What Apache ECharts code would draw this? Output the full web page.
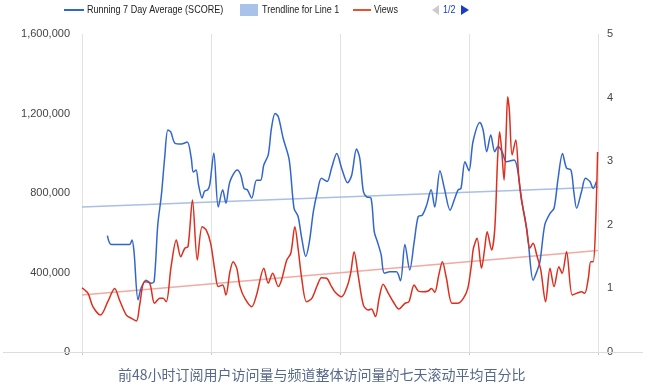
<!DOCTYPE html>
<html><head><meta charset="utf-8">
<script src="https://cdn.jsdelivr.net/npm/echarts@6/dist/echarts.min.js"></script>
<style>html,body{margin:0;padding:0;background:#fff}#c{width:664px;height:390px}</style>
</head><body><div id="c"></div>
<script>
// x positions are day indices (0..128), four gridline intervals of 32 days
const scoreDays = [6.3,7.3,11.8,12.4,12.9,13.9,14.7,15.9,17.2,17.9,18.8,19.7,20.5,21.3,22.0,23.1,24.6,26.1,27.1,27.6,28.3,28.9,29.8,30.4,31.2,31.7,32.7,33.8,34.9,35.7,36.7,38.5,39.4,40.2,41.0,42.1,43.3,44.3,45.1,46.2,47.0,47.9,48.7,49.9,51.4,52.6,53.6,54.5,55.5,56.4,57.4,58.4,59.4,60.8,61.9,63.2,64.4,65.9,66.9,68.1,68.9,69.8,70.6,71.7,72.5,73.3,74.2,75.0,76.4,78.0,79.0,80.1,81.3,82.4,83.4,84.4,85.5,86.6,87.5,88.8,89.9,91.3,92.5,93.3,94.0,95.0,96.0,97.0,98.7,99.5,100.4,101.4,102.4,103.2,104.2,105.3,107.2,108.2,109.0,109.9,110.7,111.9,112.8,113.6,114.8,116.1,117.1,118.1,119.2,120.2,121.3,122.0,122.7,123.9,124.9,126.0,126.8,127.6];
const scoreValues = [1.83,1.69,1.69,1.76,1.58,0.82,1.01,1.13,1.08,1.11,2.00,2.47,3.05,3.49,3.46,3.28,3.27,3.30,3.05,2.83,2.86,2.63,2.42,2.53,2.55,2.63,3.13,2.28,2.55,2.34,2.68,2.86,2.78,2.57,2.55,2.42,2.70,2.70,2.94,3.10,3.52,3.75,3.70,3.36,3.02,2.26,2.13,1.79,1.50,1.73,2.21,2.52,2.73,2.68,2.89,3.12,2.89,2.66,2.78,3.19,3.05,2.52,2.44,2.42,1.89,1.73,1.53,1.24,1.26,1.26,1.12,1.69,1.29,1.73,2.13,2.15,2.31,2.55,2.28,2.85,2.57,2.23,2.42,2.55,2.57,2.99,2.85,3.31,3.61,3.49,3.15,3.41,3.15,3.23,3.15,2.99,3.02,2.81,2.39,2.10,1.73,1.13,1.26,1.42,2.00,2.18,2.26,2.73,3.12,2.89,2.86,2.52,2.26,2.52,2.73,2.68,2.57,2.68];
const viewDays = [0,1.5,2.7,4.6,6.4,8.1,9.3,11.0,12.2,13.5,14.3,15.5,16.8,18.0,19.3,20.1,20.9,22.1,23.4,24.5,25.5,26.3,27.4,28.6,29.8,30.8,31.9,33.0,33.8,34.9,35.7,36.7,37.5,38.4,39.2,40.4,42.1,43.3,45.1,46.2,47.3,48.7,49.5,50.8,51.8,52.8,53.6,54.5,55.7,57.0,58.4,59.4,60.7,61.7,62.7,64.4,65.9,66.7,67.5,68.5,69.8,71.0,71.8,72.8,73.7,74.7,76.0,77.2,78.6,80.1,81.1,82.4,83.4,84.6,85.9,86.7,87.5,88.5,89.4,90.4,91.8,93.2,94.6,95.7,96.6,97.1,98.0,99.1,99.9,100.5,101.6,102.4,103.1,103.6,104.1,104.7,105.2,105.6,106.0,106.7,107.6,108.4,109.4,110.3,111.1,111.9,112.8,113.8,115.0,116.1,117.1,118.3,119.1,120.2,121.6,122.7,123.9,124.7,125.6,126.2,126.8,127.4,127.9];
const viewValues = [323000,295000,228000,186000,253000,320000,262000,186000,170000,156000,236000,354000,346000,245000,270000,270000,253000,429000,563000,479000,522000,530000,765000,463000,630000,614000,548000,404000,329000,337000,287000,404000,454000,421000,329000,270000,228000,287000,421000,346000,396000,329000,362000,463000,497000,630000,522000,371000,253000,270000,337000,374000,371000,337000,303000,278000,337000,404000,505000,387000,236000,211000,216000,178000,270000,341000,295000,253000,216000,245000,253000,337000,307000,303000,307000,320000,300000,387000,454000,371000,245000,245000,270000,320000,438000,522000,572000,421000,522000,605000,513000,622000,975000,1108000,1016000,865000,1092000,1284000,1218000,991000,1067000,865000,723000,622000,522000,547000,488000,413000,253000,421000,329000,429000,396000,505000,287000,295000,303000,295000,371000,454000,454000,639000,1006000];
const trendDays = [0,128];
const scoreTrend = [2.28,2.59];
const viewTrend = [287000,511000];
const leftTicks = ['0','400,000','800,000','1,200,000','1,600,000'];
const rightTicks = ['0','1','2','3','4','5'];
const legendNames = ['Running 7 Day Average (SCORE)','Trendline for Line 1','Views'];
const pagerText = '1/2';
const caption = '前48小时订阅用户访问量与频道整体访问量的七天滚动平均百分比';

const zip = (a,b) => a.map((x,i)=>[x,b[i]]);
const font = 'Liberation Sans, Arial, sans-serif';
const legText = (x, t) => ({type:'text',x:x,y:10,scaleX:0.82,
  style:{text:t,fill:'#222',fontSize:11,fontFamily:font,verticalAlign:'middle'},z:101});
const chart = echarts.init(document.getElementById('c'));
chart.setOption({
  animation:false,
  textStyle:{fontFamily:font},
  grid:{left:82,right:66,top:34,bottom:38},
  xAxis:{type:'value',min:0,max:128,interval:32,
    axisLine:{show:true,lineStyle:{color:'#999',width:1}},
    axisTick:{show:true,length:3,lineStyle:{color:'#ccc'}},
    axisLabel:{show:false},
    splitLine:{show:true,lineStyle:{color:'#e2e2e2',width:1}}},
  yAxis:[
    {type:'value',min:0,max:1600000,interval:400000,position:'left',
     axisLine:{show:false},axisTick:{show:false},splitLine:{show:false},
     axisLabel:{margin:12,color:'#444',fontSize:11,formatter:(v)=>leftTicks[Math.round(v/400000)]}},
    {type:'value',min:0,max:5,interval:1,position:'right',
     axisLine:{show:false},axisTick:{show:false},splitLine:{show:false},
     axisLabel:{margin:9,color:'#444',fontSize:11,formatter:(v)=>rightTicks[Math.round(v)]}}
  ],
  series:[
    {name:legendNames[1],type:'line',yAxisIndex:1,data:zip(trendDays,scoreTrend),
     showSymbol:false,lineStyle:{color:'#a9bfe6',width:1.5},itemStyle:{color:'#a9c2ea'},z:1},
    {name:'Views trend',type:'line',yAxisIndex:0,data:zip(trendDays,viewTrend),
     showSymbol:false,lineStyle:{color:'#f1aaa4',width:1.5},itemStyle:{color:'#f1aaa4'},z:1},
    {name:legendNames[0],type:'line',yAxisIndex:1,data:zip(scoreDays,scoreValues),
     showSymbol:false,smooth:0.3,lineStyle:{color:'#3366cc',width:1.5},itemStyle:{color:'#3366cc'},z:3},
    {name:legendNames[2],type:'line',yAxisIndex:0,data:zip(viewDays,viewValues),
     showSymbol:false,smooth:0.3,lineStyle:{color:'#dc2f1f',width:1.5},itemStyle:{color:'#dc3912'},z:4}
  ],
  graphic:[
    {type:'rect',shape:{x:0,y:355,width:664,height:35},style:{fill:'#fff'},z:100},
    {type:'rect',shape:{x:3,y:352,width:640,height:1},style:{fill:'#dcdcdc'},z:99},
    {type:'text',x:118,y:368,style:{text:caption,fill:'#56698a',fontSize:14,fontFamily:'Noto Sans CJK SC'},z:101},
    // legend
    {type:'rect',shape:{x:64,y:9,width:20,height:2},style:{fill:'#3366cc'},z:101},
    legText(87, legendNames[0]),
    {type:'rect',shape:{x:240,y:4,width:18,height:12},style:{fill:'#a9c2ea'},z:101},
    legText(262, legendNames[1]),
    {type:'rect',shape:{x:353,y:9,width:18,height:2},style:{fill:'#e8502e'},z:101},
    legText(374, legendNames[2]),
    {type:'polygon',shape:{points:[[439,5],[439,15],[432,10]]},style:{fill:'#cccccc'},z:101},
    {type:'text',x:443,y:10,scaleX:0.82,style:{text:pagerText,fill:'#1a3ccc',fontSize:11,fontFamily:font,verticalAlign:'middle'},z:101},
    {type:'polygon',shape:{points:[[461,5],[461,15],[469,10]]},style:{fill:'#1a3ccc'},z:101}
  ]
});
</script></body></html>
